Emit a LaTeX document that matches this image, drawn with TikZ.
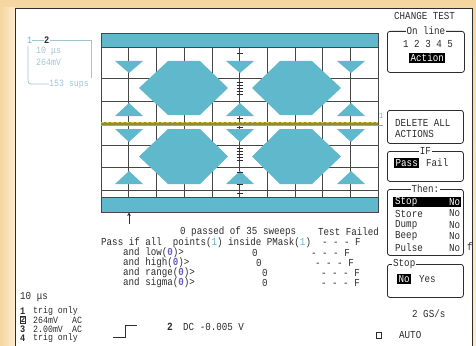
\documentclass[tikz,border=0pt]{standalone}
\usepackage{fontspec}
\newfontfamily\scr[FakeStretch=0.86]{Liberation Mono}
\usetikzlibrary{arrows.meta}
\definecolor{peach}{RGB}{246,214,160}
\definecolor{peachlt}{RGB}{252,236,208}
\definecolor{scopec}{RGB}{96,184,204}
\definecolor{ink}{RGB}{45,45,45}
\definecolor{gridc}{RGB}{70,70,70}
\definecolor{faint}{RGB}{160,198,212}
\definecolor{vio}{RGB}{110,90,200}
\definecolor{olivec}{RGB}{140,140,60}
\definecolor{tracec}{RGB}{215,200,70}
\tikzset{
  txt/.style={font=\scr\fontsize{10.7}{11}\selectfont, inner sep=0pt, anchor=west, text=ink},
  small/.style={txt, font=\scr\fontsize{9.6}{10}\selectfont},
  big/.style={font=\scr\bfseries\fontsize{10}{10}\selectfont, inner sep=0pt, anchor=west, text=ink},
  hl/.style={txt, fill=black, text=white, inner xsep=1.5pt, inner ysep=1.5pt},
  panel/.style={draw=ink, line width=0.8pt, rounded corners=2.5pt, inner sep=0pt, anchor=north west},
  ptitle/.style={txt, fill=white, inner xsep=1pt, anchor=center},
  gridl/.style={draw=gridc, line width=0.6pt},
  mask/.style={fill=scopec},
  faintt/.style={small, text=faint},
  faintl/.style={draw=faint, line width=0.8pt},
}
\begin{document}
\begin{tikzpicture}[x=1pt,y=-1pt]
\useasboundingbox (0,0) rectangle (476,345);
% frame
\shade[top color=peach, bottom color=peachlt] (0,0) rectangle (476,345);
\shade[left color=peach, right color=peachlt] (0,8) rectangle (15,345);
\fill[white] (15,8) rectangle (472,350);
\draw[ink, line width=0.8pt] (15,350) -- (15,8) -- (472,8) -- (472,350);

% eye diagram grid
\fill[scopec] (101,33) rectangle (378,47);
\fill[scopec] (101,197) rectangle (378,212);
\foreach \i in {1,...,9} \draw[gridl] ({101+27.7*\i},47) -- ({101+27.7*\i},197);
\foreach \yy in {78,101,123,145,167,190} \draw[gridl] (101,\yy) -- (378,\yy);
\draw[gridl] (101,47) -- (378,47);
\draw[gridl] (101,197) -- (378,197);
\draw[gridl] (101,33) rectangle (378,212);

% hexagon masks
\foreach \xa/\xb/\xc/\xd in {139/168/200/228, 252/280/312/341}{
  \fill[mask] (\xb,61) -- (\xc,61) -- (\xd,88) -- (\xc,115) -- (\xb,115) -- (\xa,88) -- cycle;
  \fill[mask] (\xb,129) -- (\xc,129) -- (\xd,156.5) -- (\xc,184) -- (\xb,184) -- (\xa,156.5) -- cycle;
}
% triangle masks
\foreach \c in {129,240,351}{
  \fill[mask] (\c-14,61) -- (\c+14,61) -- (\c,73) -- cycle;
  \fill[mask] (\c-14,116) -- (\c+14,116) -- (\c,103) -- cycle;
  \fill[mask] (\c-14,129) -- (\c+14,129) -- (\c,142) -- cycle;
  \fill[mask] (\c-14,184) -- (\c+14,184) -- (\c,171) -- cycle;
}
% ticks on centre axis
\foreach \yy in {53,82,85,88,91,94,118,127,148,151,154,157,160,172,184,193}
  \draw[ink, line width=0.7pt] (236.5,\yy) -- (242.5,\yy);

% centre trace
\draw[olivec, line width=3pt] (101,123) -- (378,123);
\draw[tracec, line width=1.4pt, dash pattern=on 3pt off 2pt] (101,122.5) -- (378,122.5);
\draw[scopec, line width=0.8pt] (101,125) -- (383,125);
\node[txt, text=scopec, font=\scr\fontsize{8}{8}\selectfont] (mk1) at (379,116) {1};

% arrow below grid
\coordinate (arrB) at (129,224);
\coordinate (arrT) at (129,212.5);
\draw[ink, line width=0.7pt, -{Stealth[length=3.5pt,width=3.5pt]}] (arrB) -- (arrT);

% faint top-left box
\node[small, text=scopec] (tl1) at (27,40) {1};
\node[big] (tl2) at (44,40) {2};
\node[faintt] (tlt) at (36,51) {10 μs};
\node[faintt] (tlv) at (36,62) {264mV};
\node[faintt] (tls) at (49,84) {153 sups};
\draw[faintl] (tl1.east) -- (tl2.west);
\draw[faintl] (tl2.east) -- (91,40) -- (91,78);
\draw[faintl] (28,46) -- (28,81) arc[start angle=180, end angle=90, radius=3] -- (tls.west);

% right panel
\node[txt] (chg) at (394,16) {CHANGE TEST};
\node[panel, minimum width=77pt, minimum height=41pt] (online) at (387,31) {};
\node[ptitle] (onlineT) at (online.north) {On line};
\node[txt] (nums) at (403,44) {1 2 3 4 5};
\node[hl] (act) at (409,58) {Action};

\node[panel, minimum width=76pt, minimum height=33pt] (delbox) at (387,110) {};
\node[txt] (del1) at (395,123) {DELETE ALL};
\node[txt] (del2) at (395,134) {ACTIONS};

\node[panel, minimum width=76pt, minimum height=30pt] (ifbox) at (387,151) {};
\node[ptitle] (ifT) at (ifbox.north) {IF};
\node[hl] (pass) at (394,163) {Pass};
\node[txt] (fail) at (426,163) {Fail};

\node[panel, minimum width=76pt, minimum height=66pt] (thenbox) at (387,189) {};
\node[ptitle] (thenT) at (thenbox.north) {Then:};
\node[fill=black, minimum width=68pt, minimum height=10pt, inner sep=0pt, anchor=west] (stoprow) at (393,202) {};
\node[txt, text=white] (stopL) at (395,202) {Stop};
\node[txt, text=white] (stopR) at (449,202) {No};
\node[txt] (storeL) at (395,213.5) {Store};
\node[txt] (storeR) at (449,213.5) {No};
\node[txt] (dumpL) at (395,225) {Dump};
\node[txt] (dumpR) at (449,225) {No};
\node[txt] (beepL) at (395,236.5) {Beep};
\node[txt] (beepR) at (449,236.5) {No};
\node[txt] (pulseL) at (395,248) {Pulse};
\node[txt] (pulseR) at (449,248) {No};
\node[txt] (ff) at (467,247) {f};

\node[panel, minimum width=76pt, minimum height=33pt] (stopbox) at (387,264) {};
\node[ptitle, anchor=west] (stopT) at (392,264) {Stop};
\node[hl] (no) at (397,279) {No};
\node[txt] (yes) at (419,279) {Yes};

\node[txt] (gss) at (412,314) {2 GS/s};
\node[draw=ink, line width=0.7pt, minimum width=5pt, minimum height=6pt, inner sep=0pt] (sq) at (379,335) {};
\node[txt] (auto) at (399,335) {AUTO};

% middle text block
\node[txt] (r1a) at (180,231.5) {0 passed of 35 sweeps};
\node[txt] (r1b) at (318,231.5) {Test Failed};
\node[txt] (r2) at (101,242.5) {Pass if all~~points(\textcolor{scopec}{1}) inside PMask(\textcolor{scopec}{1})~~- - - F};
\node[txt] (r3a) at (123,252.5) {and low(\textcolor{vio}{\textbf{0}})>};
\node[txt] (r3b) at (252,252.5) {0};
\node[txt, anchor=east] (r3c) at (350,252.5) {- - - F};
\node[txt] (r4a) at (123,262.5) {and high(\textcolor{vio}{\textbf{0}})>};
\node[txt] (r4b) at (256,262.5) {0};
\node[txt, anchor=east] (r4c) at (354,262.5) {- - - F};
\node[txt] (r5a) at (123,273) {and range(\textcolor{vio}{\textbf{0}})>};
\node[txt] (r5b) at (262,273) {0};
\node[txt, anchor=east] (r5c) at (360,273) {- - - F};
\node[txt] (r6a) at (123,283) {and sigma(\textcolor{vio}{\textbf{0}})>};
\node[txt] (r6b) at (262,283) {0};
\node[txt, anchor=east] (r6c) at (360,283) {- - - F};

% bottom left
\node[txt] (tb) at (20,297) {10 μs};
\node[big] (c1) at (20,311) {1};
\node[small] (c1t) at (33,311) {trig only};
\node[big, draw=ink, line width=0.9pt, inner sep=0.3pt, font=\scr\bfseries\fontsize{8.5}{8.5}\selectfont] (c2) at (20,320) {2};
\node[small] (c2t) at (33,320) {264mV};
\node[small] (c2a) at (72,320) {AC};
\node[big] (c3) at (20,329) {3};
\node[small] (c3t) at (33,329) {2.00mV};
\node[small] (c3a) at (72,329) {AC};
\node[big] (c4) at (20,338) {4};
\node[small] (c4t) at (33,338) {trig only};

% trigger
\draw[ink, line width=0.8pt] (113,337) -- (125,337) -- (125,325) -- (137,325);
\node[big, font=\scr\bfseries\fontsize{11}{11}\selectfont] (trg2) at (167,327) {2};
\node[txt] (trgdc) at (183,327) {DC -0.005 V};
\end{tikzpicture}
\end{document}
